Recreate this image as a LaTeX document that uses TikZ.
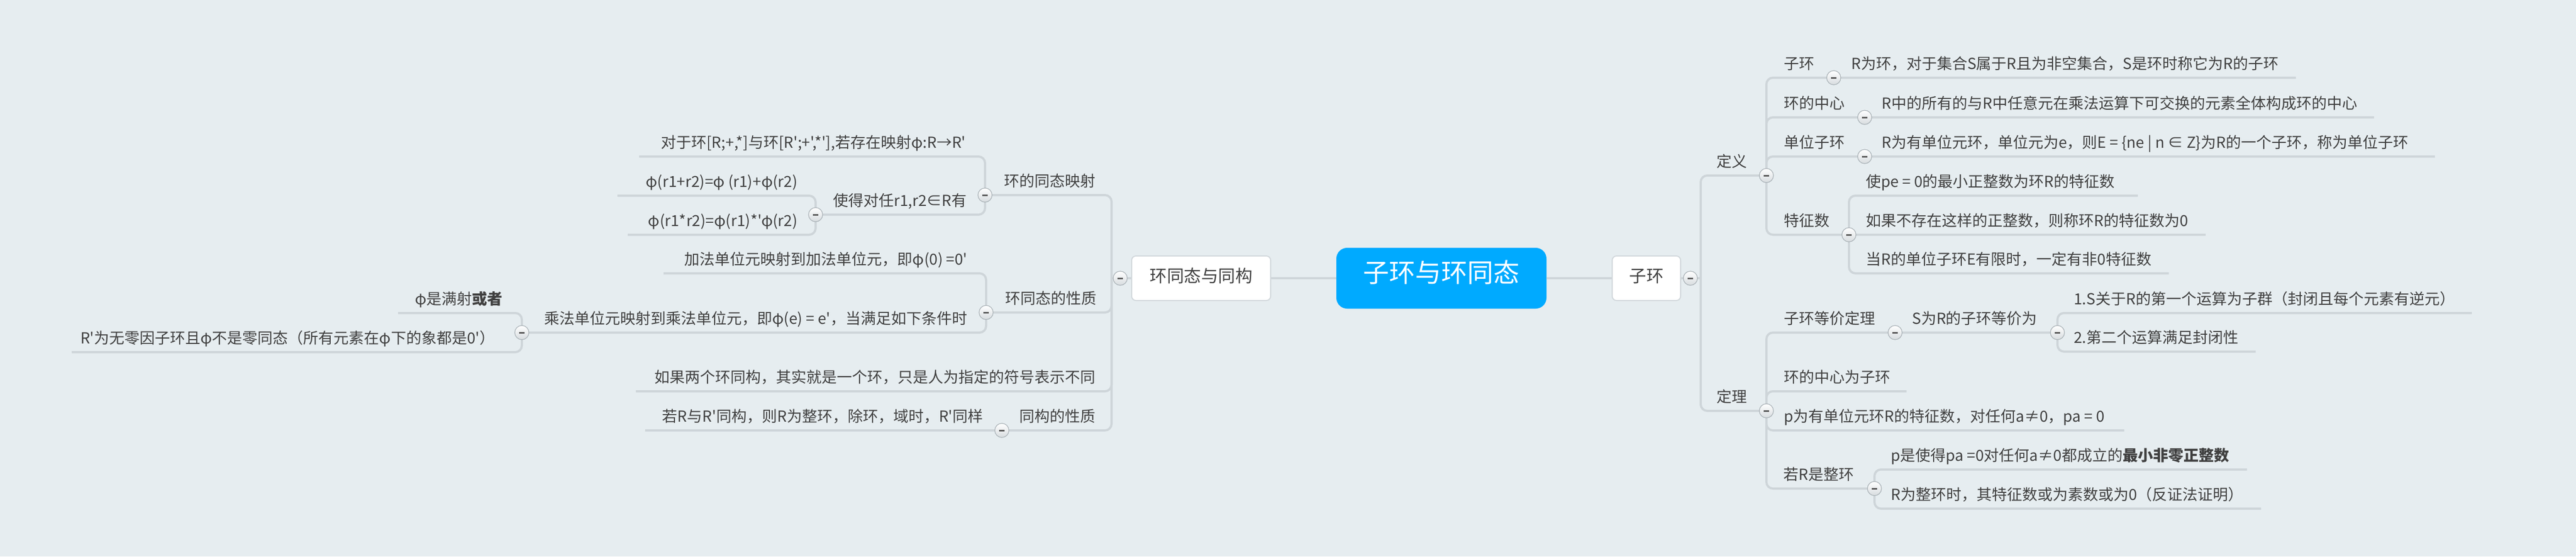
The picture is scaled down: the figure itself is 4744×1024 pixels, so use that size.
\documentclass[tikz,border=0pt]{standalone}
\usepackage{fontspec}
\setmainfont{Noto Sans CJK SC}[Ligatures=TeXOff]
\definecolor{bgc}{RGB}{230,237,240}
\definecolor{linec}{RGB}{206,213,217}
\definecolor{txt}{RGB}{64,64,64}
\definecolor{boxb}{RGB}{210,216,220}
\definecolor{ctrblue}{RGB}{0,170,255}
\definecolor{togb}{RGB}{170,178,183}
\definecolor{togf}{RGB}{215,220,223}
\definecolor{minc}{RGB}{90,90,90}
\tikzset{
  conn/.style={draw=linec, line width=2pt, rounded corners=6pt},
  leaf/.style={font=\fontsize{14}{16}\selectfont, text=txt, inner sep=0pt, anchor=base west},
  leafL/.style={leaf, anchor=base east},
  tog/.style={circle, minimum size=13pt, inner sep=0pt, draw=togb, line width=0.6pt,
    top color=white, bottom color=togf,
    path picture={\fill[minc] ([xshift=-2.5pt,yshift=-0.75pt]path picture bounding box.center) rectangle ([xshift=2.5pt,yshift=0.75pt]path picture bounding box.center);}},
  topic/.style={draw=boxb, line width=1pt, fill=white, rounded corners=4pt, minimum height=41pt,
    font=\fontsize{15.75}{18}\selectfont, text=txt, inner sep=0pt, text height=0.83em, text depth=0.07em},
  central/.style={fill=ctrblue, rounded corners=10pt, minimum width=193.5pt, minimum height=56pt,
    text=white, font=\fontsize{24}{28}\selectfont, inner sep=0pt, text height=0.83em, text depth=0.07em}
}
\begin{document}
\begin{tikzpicture}[x=0.5pt,y=-0.5pt]
\fill[bgc] (0,0) rectangle (4744,1024);
\useasboundingbox (0,0) rectangle (4744,1024);

% ---------- coordinates (right) ----------
\coordinate (sR) at (3132,512);
\coordinate (cR) at (3113,512);
\coordinate (cDef) at (3253,323);
\coordinate (cThm) at (3253,756);
\coordinate (cSubD) at (3377,143);
\coordinate (eSubD) at (4228,143);
\coordinate (cCen) at (3434,216);
\coordinate (eCen) at (4372,216);
\coordinate (cUnit) at (3434,288);
\coordinate (eUnit) at (4484,288);
\coordinate (cChar) at (3405,432);
\coordinate (eCh1) at (3937,360);
\coordinate (eCh2) at (4062,432);
\coordinate (eCh3) at (3994,503);
\coordinate (cEq) at (3490,612);
\coordinate (cS) at (3789,612);
\coordinate (eS1) at (4552,576);
\coordinate (eS2) at (4154,647);
\coordinate (eCenSub) at (3511,720);
\coordinate (eP) at (3912,792);
\coordinate (cInt) at (3452,899);
\coordinate (eI1) at (4138,864);
\coordinate (eI2) at (4164,936);
% ---------- coordinates (left) ----------
\coordinate (sL) at (2047,512);
\coordinate (cL) at (2063,512);
\coordinate (cHom) at (1814,359);
\coordinate (eH1) at (1177,288);
\coordinate (cMake) at (1502,395);
\coordinate (eM1) at (1137,360);
\coordinate (eM2) at (1156,432);
\coordinate (cProp) at (1816,575);
\coordinate (eP1) at (1222,503);
\coordinate (cMul) at (961,612);
\coordinate (eMu1) at (733,576);
\coordinate (eMu2) at (132,648);
\coordinate (eIsoA) at (1171,720);
\coordinate (cIso) at (1845,792);
\coordinate (eIso) at (1188,792);

% ---------- connectors (right) ----------
\draw[conn] (sR) |- (cDef);
\draw[conn] (sR) |- (cThm);
\draw[conn] (cDef) |- (eSubD);
\draw[conn] (cDef) |- (eCen);
\draw[conn] (cDef) |- (eUnit);
\draw[conn] (cDef) |- (cChar);
\draw[conn] (cChar) |- (eCh1);
\draw[conn] (cChar) -- (eCh2);
\draw[conn] (cChar) |- (eCh3);
\draw[conn] (cThm) |- (cS);
\draw[conn] (cThm) |- (eCenSub);
\draw[conn] (cThm) |- (eP);
\draw[conn] (cThm) |- (cInt);
\draw[conn] (cS) |- (eS1);
\draw[conn] (cS) |- (eS2);
\draw[conn] (cInt) |- (eI1);
\draw[conn] (cInt) |- (eI2);
% ---------- connectors (left) ----------
\draw[conn] (sL) |- (cHom);
\draw[conn] (sL) |- (cProp);
\draw[conn] (sL) |- (eIsoA);
\draw[conn] (sL) |- (eIso);
\draw[conn] (cHom) |- (eH1);
\draw[conn] (cHom) |- (cMake);
\draw[conn] (cMake) |- (eM1);
\draw[conn] (cMake) |- (eM2);
\draw[conn] (cProp) |- (eP1);
\draw[conn] (cProp) |- (cMul);
\draw[conn] (cMul) |- (eMu1);
\draw[conn] (cMul) |- (eMu2);

% ---------- main boxes ----------
\node[central] (ctr) at (2654.5,512) {子环与环同态};
\node[topic, minimum width=128pt] (hom) at (2212,512) {环同态与同构};
\node[topic, minimum width=63pt] (sub) at (3032,512) {子环};
\draw[conn] (ctr.west) -- (hom.east);
\draw[conn] (ctr.east) -- (sub.west);
\draw[conn] (hom.west) -- (sL);
\draw[conn] (sub.east) -- (sR);

% ---------- toggles ----------
\node[tog] (gR) at (cR) {};
\node[tog] (gDef) at (cDef) {};
\node[tog] (gThm) at (cThm) {};
\node[tog] (gSubD) at (cSubD) {};
\node[tog] (gCen) at (cCen) {};
\node[tog] (gUnit) at (cUnit) {};
\node[tog] (gChar) at (cChar) {};
\node[tog] (gEq) at (cEq) {};
\node[tog] (gS) at (cS) {};
\node[tog] (gInt) at (cInt) {};
\node[tog] (gL) at (cL) {};
\node[tog] (gHom) at (cHom) {};
\node[tog] (gMake) at (cMake) {};
\node[tog] (gProp) at (cProp) {};
\node[tog] (gMul) at (cMul) {};
\node[tog] (gIso) at (cIso) {};

% ---------- texts (right) ----------
\node[leaf] (tDef) at (3161,307) {定义};
\node[leaf] (tSubD) at (3285,127) {子环};
\node[leaf] (tSubDx) at (3409,127) {R为环，对于集合S属于R且为非空集合，S是环时称它为R的子环};
\node[leaf] (tCen) at (3285,200) {环的中心};
\node[leaf] (tCenx) at (3465,200) {R中的所有的与R中任意元在乘法运算下可交换的元素全体构成环的中心};
\node[leaf] (tUnit) at (3285,272) {单位子环};
\node[leaf] (tUnitx) at (3465,272) {R为有单位元环，单位元为e，则E = \{ne | n ∈ Z\}为R的一个子环，称为单位子环};
\node[leaf] (tChar) at (3285,416) {特征数};
\node[leaf] (tCh1) at (3436,344) {使pe = 0的最小正整数为环R的特征数};
\node[leaf] (tCh2) at (3436,416) {如果不存在这样的正整数，则称环R的特征数为0};
\node[leaf] (tCh3) at (3436,487) {当R的单位子环E有限时，一定有非0特征数};
\node[leaf] (tThm) at (3161,740) {定理};
\node[leaf] (tEq) at (3285,596) {子环等价定理};
\node[leaf] (tS) at (3521,596) {S为R的子环等价为};
\node[leaf] (tS1) at (3819,560) {1.S关于R的第一个运算为子群（封闭且每个元素有逆元）};
\node[leaf] (tS2) at (3819,631) {2.第二个运算满足封闭性};
\node[leaf] (tCenSub) at (3285,704) {环的中心为子环};
\node[leaf] (tP) at (3285,776) {p为有单位元环R的特征数，对任何a≠0，pa = 0};
\node[leaf] (tInt) at (3284,883) {若R是整环};
\node[leaf] (tI1) at (3482,848) {p是使得pa =0对任何a≠0都成立的{\bfseries 最小非零正整数}};
\node[leaf] (tI2) at (3482,920) {R为整环时，其特征数或为素数或为0（反证法证明）};

% ---------- texts (left) ----------
\node[leafL] (tHom) at (2018,343) {环的同态映射};
\node[leafL] (tH1) at (1779,272) {对于环[R;+,*]与环[R';+',*'],若存在映射φ:R→R'};
\node[leafL] (tMake) at (1781,379) {使得对任r1,r2∈R有};
\node[leafL] (tM1) at (1469,344) {φ(r1+r2)=φ (r1)+φ(r2)};
\node[leafL] (tM2) at (1469,416) {φ(r1*r2)=φ(r1)*'φ(r2)};
\node[leafL] (tProp) at (2020,559) {环同态的性质};
\node[leafL] (tP1) at (1782,487) {加法单位元映射到加法单位元，即φ(0) =0'};
\node[leafL] (tMul) at (1782,596) {乘法单位元映射到乘法单位元，即φ(e) = e'，当满足如下条件时};
\node[leafL] (tMu1) at (926,560) {φ是满射{\bfseries 或者}};
\node[leafL] (tMu2) at (912,632) {R'为无零因子环且φ不是零同态（所有元素在φ下的象都是0'）};
\node[leafL] (tIsoA) at (2018,704) {如果两个环同构，其实就是一个环，只是人为指定的符号表示不同};
\node[leafL] (tIso) at (2018,776) {同构的性质};
\node[leafL] (tIsox) at (1811,776) {若R与R'同构，则R为整环，除环，域时，R'同样};
\end{tikzpicture}
\end{document}
